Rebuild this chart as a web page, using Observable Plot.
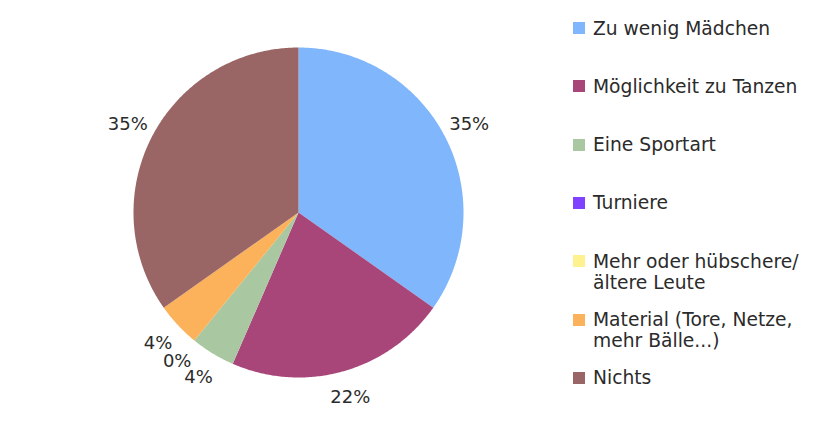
<!DOCTYPE html>
<html>
<head>
<meta charset="utf-8">
<script src="https://cdn.jsdelivr.net/npm/d3@7"></script>
<script src="https://cdn.jsdelivr.net/npm/@observablehq/plot@0.6"></script>
<style>
  html, body { margin: 0; padding: 0; background: #fff; }
  #wrap { position: relative; width: 824px; height: 421px; overflow: hidden; font-family: "DejaVu Sans", Verdana, sans-serif; }
  #chart { position: absolute; left: 0; top: 0; }
  .item { position: absolute; left: 573px; display: flex; align-items: flex-start; font-size: 18.7px; line-height: 21px; color: #2b2b2b; }
  .sw { width: 12px; height: 12px; margin-top: 4.5px; margin-right: 8px; flex: none; }
</style>
</head>
<body>
<div id="wrap"><div id="chart"></div><div id="legend"></div></div>
<script>
const categories = ["Zu wenig Mädchen", "Möglichkeit zu Tanzen", "Eine Sportart", "Turniere", "Mehr oder hübschere/\nältere Leute", "Material (Tore, Netze,\nmehr Bälle...)", "Nichts"];
const counts = [8, 5, 1, 0, 0, 1, 8];
const colors = ["#80b6fc", "#a8467a", "#a9c7a0", "#8040ff", "#fdf28f", "#fbb25a", "#9a6565"];

const total = d3.sum(counts);
const arcs = d3.pie().sort(null).value(d => d)(counts);

const pt = (a, r) => [r * Math.sin(a), -r * Math.cos(a)];

const slices = arcs.map((a, i) => {
  const n = Math.max(2, Math.ceil((a.endAngle - a.startAngle) / 0.01));
  const ring = [[0, 0]];
  for (let k = 0; k <= n; k++) ring.push(pt(a.startAngle + (a.endAngle - a.startAngle) * k / n, 1));
  ring.push([0, 0]);
  return {type: "Feature", properties: {cat: categories[i]}, geometry: {type: "Polygon", coordinates: [ring]}};
}).filter((f, i) => counts[i] > 0);

// one label per distinct position (coincident zero slices share one label)
const seen = new Set();
const labels = arcs.map((a, i) => {
  const m = (a.startAngle + a.endAngle) / 2;
  const [x, y] = pt(m, 1.165);
  return {x, y, text: Math.round(counts[i] / total * 100) + "%"};
}).filter(d => {
  const k = d.x.toFixed(4) + "," + d.y.toFixed(4);
  if (seen.has(k)) return false;
  seen.add(k);
  return true;
});

const chart = Plot.plot({
  width: 824,
  height: 421,
  marginLeft: 133,
  marginRight: 361,
  marginTop: 47,
  marginBottom: 44,
  projection: {type: "identity", clip: false, domain: {type: "MultiPoint", coordinates: [[-1, -1], [1, 1]]}},
  color: {domain: categories, range: colors},
  marks: [
    Plot.geo(slices, {fill: d => d.properties.cat, stroke: "none"}),
    Plot.text(labels, {x: "x", y: "y", text: "text", fontSize: 18, fill: "#2b2b2b", fontFamily: "DejaVu Sans, Verdana, sans-serif", clip: false})
  ]
});
document.getElementById("chart").appendChild(chart);

const legend = document.getElementById("legend");
categories.forEach((c, i) => {
  const it = document.createElement("div");
  it.className = "item";
  it.style.top = (17.5 + i * 58.3) + "px";
  const sw = document.createElement("div");
  sw.className = "sw";
  sw.style.background = colors[i];
  const tx = document.createElement("div");
  tx.innerHTML = c.split("\n").join("<br>");
  it.appendChild(sw); it.appendChild(tx);
  legend.appendChild(it);
});
</script>
</body>
</html>
